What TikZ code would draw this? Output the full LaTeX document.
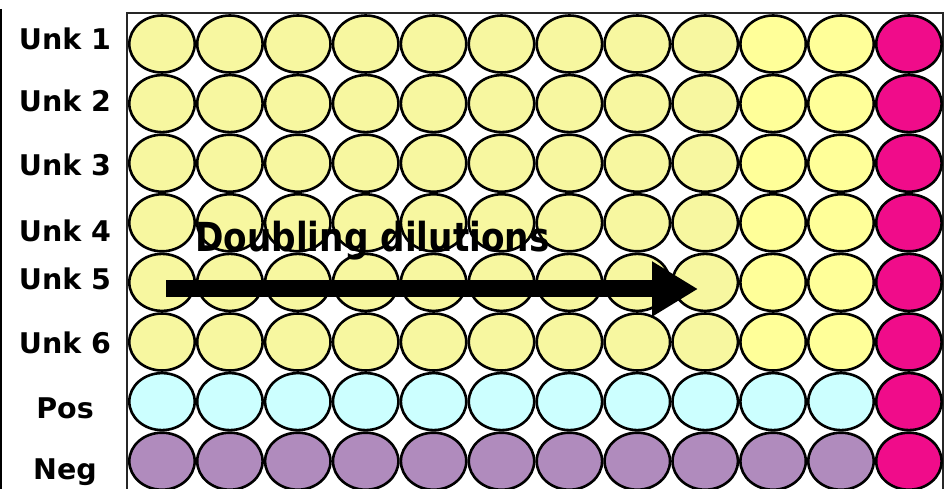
\documentclass[tikz,border=0pt]{standalone}
\usepackage{fontspec}
\setmainfont{DejaVu Sans}
\usetikzlibrary{shapes.geometric,arrows.meta}
\definecolor{paleyel}{RGB}{247,247,160}
\definecolor{brightyel}{RGB}{255,255,153}
\definecolor{posc}{RGB}{204,255,255}
\definecolor{negc}{RGB}{176,139,189}
\definecolor{ctrl}{RGB}{240,12,138}
\begin{document}
\begin{tikzpicture}[x=1pt,y=-1pt,
  well/.style={ellipse,draw=black,line width=2.6pt,inner sep=0pt,minimum width=65.4pt,minimum height=57pt},
  lab/.style={font=\fontsize{28.5}{28.5}\selectfont\bfseries,anchor=base,inner sep=0pt},
  frameline/.style={draw=black!85,line width=2pt},
  arrowline/.style={line width=17pt,-{Triangle[length=46pt,width=52pt]}}
  ]
\useasboundingbox (0,0) rectangle (946,489);
\begin{scope}
\clip (0,0) rectangle (946,489);
\draw[line width=1.6pt] (0.8,9) -- (0.8,495);
\draw[frameline] (127,495) -- (127,13) -- (943,13) -- (943,495);
\foreach \r in {0,...,7}{\foreach \c in {0,...,11}{
  \ifnum\c=11 \def\fc{ctrl}\else
    \ifnum\r=6 \def\fc{posc}\else
      \ifnum\r=7 \def\fc{negc}\else
        \ifnum\c>8 \def\fc{brightyel}\else\def\fc{paleyel}\fi
      \fi
    \fi
  \fi
  \node[well,fill=\fc] (w-\r-\c) at ({162+67.9*\c},{44+59.6*\r}) {};
}}
\end{scope}
\node[lab] (l1) at (65,49.5) {Unk 1};
\node[lab] (l2) at (65,112) {Unk 2};
\node[lab] (l3) at (65,176) {Unk 3};
\node[lab] (l4) at (65,242) {Unk 4};
\node[lab] (l5) at (65,290) {Unk 5};
\node[lab] (l6) at (65,354) {Unk 6};
\node[lab] (l7) at (65,418) {Pos};
\node[lab] (l8) at (65,479) {Neg};
\coordinate (as) at (166,289);
\coordinate (ae) at (698,289);
\draw[arrowline] (as) -- (ae);
\node[anchor=base west,inner sep=0pt] (dd) at (195,252) {\scalebox{0.857}[1]{\fontsize{40}{40}\selectfont\bfseries Doubling dilutions}};
\end{tikzpicture}
\end{document}
